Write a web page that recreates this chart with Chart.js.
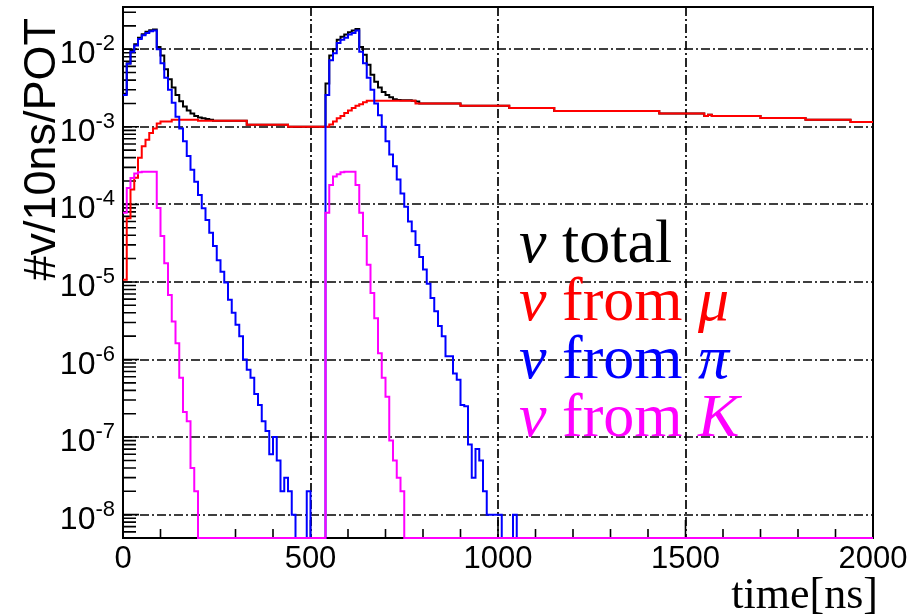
<!DOCTYPE html>
<html lang="en">
<head>
<meta charset="UTF-8">
<title>Neutrino time distribution</title>
<script src="https://cdn.jsdelivr.net/npm/chart.js"></script>
<style>
  body { margin: 0; background: #fff; }
  #wrap { width: 912px; height: 616px; }
</style>
</head>
<body>
<div id="wrap"><canvas id="timeChart" width="912" height="616"></canvas></div>
<script>
// axis ranges (ns, #nu/10ns/POT)
const X_MIN = 0, X_MAX = 2000;
const Y_MIN = 5.0e-9, Y_MAX = 3.5e-2;
const xTickLabels = [0, 500, 1000, 1500, 2000];
const yDecades = [-8, -7, -6, -5, -4, -3, -2];
const X_TITLE = 'time[ns]';
const Y_TITLE = '#v/10ns/POT';

// each series: bin left edges (ns) and bin contents; a content holds until the next edge, 0 = empty bin
const totalTimes = [0, 10, 20, 30, 40, 50, 60, 70, 80, 90, 100, 110, 120, 130, 140, 150, 160, 170, 180, 190, 200, 210, 220, 230, 240,
  330, 440,
  540, 550, 560, 570, 580, 590, 600, 610, 620, 630, 640, 650, 660, 670, 680, 690, 700, 710, 720, 730, 740, 750, 760, 770, 780, 790,
  900, 1030, 1150, 1430, 1550, 1560, 1570, 1700, 1820, 1940];
const totalValues = [2.66e-3, 6.6e-3, 9.6e-3, 1.16e-2, 1.40e-2, 1.56e-2, 1.68e-2, 1.76e-2, 1.80e-2,
  1.07e-2, 8.3e-3, 5.5e-3, 4.1e-3, 3.2e-3, 2.57e-3, 2.14e-3, 1.82e-3, 1.62e-3, 1.48e-3, 1.38e-3, 1.32e-3, 1.29e-3, 1.26e-3, 1.23e-3, 1.20e-3,
  1.06e-3, 1.0e-3,
  3.6e-3, 8.3e-3, 1.0e-2, 1.32e-2, 1.45e-2, 1.55e-2, 1.66e-2, 1.74e-2, 1.82e-2,
  1.07e-2, 8.5e-3, 6.3e-3, 4.7e-3, 3.8e-3, 3.2e-3, 2.8e-3, 2.57e-3, 2.40e-3, 2.26e-3, 2.21e-3, 2.19e-3, 2.19e-3, 2.19e-3, 2.16e-3, 2.12e-3, 2.0e-3,
  1.86e-3, 1.74e-3, 1.6e-3, 1.48e-3, 1.38e-3, 1.43e-3, 1.38e-3, 1.30e-3, 1.23e-3, 1.15e-3];

const muTimes = [0, 10, 20, 30, 40, 50, 60, 70, 80, 90, 100, 130, 200, 330, 440,
  550, 560, 570, 580, 590, 600, 610, 620, 630, 640, 650,
  780, 900, 1030, 1150, 1430, 1550, 1560, 1570, 1700, 1820, 1940];
const muValues = [1.07e-5, 6.6e-5, 1.55e-4, 2.2e-4, 4.0e-4, 5.6e-4, 6.8e-4, 8.3e-4, 9.5e-4, 1.10e-3, 1.17e-3, 1.23e-3, 1.20e-3, 1.06e-3, 1.0e-3,
  1.07e-3, 1.17e-3, 1.29e-3, 1.38e-3, 1.51e-3, 1.62e-3, 1.74e-3, 1.86e-3, 1.95e-3, 2.07e-3, 2.16e-3,
  2.0e-3, 1.86e-3, 1.74e-3, 1.6e-3, 1.48e-3, 1.38e-3, 1.43e-3, 1.38e-3, 1.30e-3, 1.23e-3, 1.15e-3];

const piTimes = [0, 10, 20, 30, 40, 50, 60, 70, 80, 90, 100, 110, 120, 130, 140, 150, 160, 170, 180, 190,
  200, 210, 220, 230, 240, 250, 260, 270, 280, 290, 300, 310, 320, 330, 340, 350, 360, 370, 380, 390,
  400, 410, 420, 430, 440, 450, 460, 490, 500,
  540, 550, 560, 570, 580, 590, 600, 610, 620, 630, 640, 650, 660, 670, 680, 690, 700, 710, 720, 730,
  740, 750, 760, 770, 780, 790, 800, 810, 820, 830, 840, 850, 860, 870, 880, 890, 900, 910, 920, 930,
  940, 950, 960, 970, 1010, 1040, 1050];
const piValues = [2.57e-3, 6.5e-3, 9.3e-3, 1.12e-2, 1.35e-2, 1.51e-2, 1.62e-2, 1.70e-2, 1.74e-2, 1.0e-2,
  6.6e-3, 4.3e-3, 3.0e-3, 2.04e-3, 1.35e-3, 9.5e-4, 6.5e-4, 4.2e-4, 2.8e-4, 1.95e-4,
  1.32e-4, 8.9e-5, 6.3e-5, 4.3e-5, 2.9e-5, 1.9e-5, 1.35e-5, 9.8e-6, 5.9e-6, 4.0e-6,
  2.8e-6, 2.0e-6, 1.0e-6, 7.4e-7, 5.8e-7, 3.6e-7, 2.6e-7, 1.6e-7, 1.2e-7, 6e-8,
  1e-7, 5e-8, 2e-8, 3e-8, 2e-8, 1e-8, 0, 2e-8, 0,
  2.57e-3, 7.2e-3, 8.9e-3, 1.2e-2, 1.32e-2, 1.41e-2, 1.55e-2, 1.62e-2, 1.74e-2, 9.3e-3,
  6.6e-3, 4.3e-3, 3.0e-3, 2.0e-3, 1.41e-3, 1.0e-3, 6.5e-4, 4.4e-4, 3.1e-4, 2.09e-4,
  1.38e-4, 9.3e-5, 6.0e-5, 4.5e-5, 3.0e-5, 2.1e-5, 1.45e-5, 9.5e-6, 6.2e-6, 4.2e-6,
  2.7e-6, 2.0e-6, 1.1e-6, 1.1e-6, 6.6e-7, 5.5e-7, 2.6e-7, 2.5e-7, 8e-8, 3e-8,
  7e-8, 5e-8, 2e-8, 1e-8, 0, 1e-8, 0];

const kTimes = [0, 10, 20, 30, 40, 50, 60, 70, 80, 90, 100, 110, 120, 130, 140, 150, 160, 170, 180, 190, 200,
  540, 550, 560, 570, 580, 590, 600, 610, 620, 630, 640, 650, 660, 670, 680, 690, 700, 710, 720, 730, 740, 750];
const kValues = [7.8e-5, 1.62e-4, 2.19e-4, 2.5e-4, 2.6e-4, 2.63e-4, 2.63e-4, 2.63e-4, 2.63e-4, 9.0e-5,
  3.9e-5, 1.74e-5, 6.8e-6, 3.1e-6, 1.62e-6, 5.8e-7, 2.1e-7, 1.6e-7, 4e-8, 2e-8, 0,
  7.8e-5, 1.78e-4, 2.29e-4, 2.45e-4, 2.6e-4, 2.63e-4, 2.63e-4, 2.63e-4, 1.78e-4, 7.8e-5,
  3.9e-5, 1.66e-5, 7.2e-6, 3.4e-6, 1.2e-6, 5.8e-7, 3.3e-7, 9e-8, 5e-8, 3e-8, 2e-8, 0];

const seriesColors = ['#000000', '#ff0000', '#0000ff', '#ff00ff'];
const seriesSymbols = ['ν', 'ν', 'ν', 'ν'];
const seriesWords = [' total', ' from ', ' from ', ' from '];
const seriesParents = ['', 'μ', 'π', 'K'];

// empty bins sit on the bottom of the frame, like ROOT does on a log axis
function histogram(times, values) {
  const pts = times.map((t, i) => ({ x: t, y: values[i] > 0 ? values[i] : Y_MIN }));
  pts.push({ x: X_MAX, y: pts[pts.length - 1].y });
  return pts;
}

function dataset(times, values, idx, order) {
  return {
    data: histogram(times, values),
    borderColor: seriesColors[idx],
    borderWidth: 2,
    pointRadius: 0,
    stepped: 'before',
    fill: false,
    clip: false,
    order: order
  };
}

const GRID_DASH = [9, 3, 2, 3];

const rootStyle = {
  id: 'rootStyle',
  beforeDatasetsDraw(chart) {
    const { ctx, chartArea: a, scales: { x, y } } = chart;
    ctx.save();
    ctx.strokeStyle = '#000';

    // dash-dot grid
    ctx.lineWidth = 1.7;
    ctx.setLineDash(GRID_DASH);
    ctx.beginPath();
    xTickLabels.slice(1, -1).forEach(t => {
      const px = Math.round(x.getPixelForValue(t));
      ctx.moveTo(px, a.top); ctx.lineTo(px, a.bottom);
    });
    yDecades.forEach(d => {
      const py = Math.round(y.getPixelForValue(Math.pow(10, d)));
      ctx.moveTo(a.left, py); ctx.lineTo(a.right, py);
    });
    ctx.stroke();
    ctx.setLineDash([]);

    // ticks inside the frame
    ctx.lineWidth = 1.6;
    ctx.beginPath();
    for (let e = -9; e <= -1; e++) {
      for (let m = 1; m <= 9; m++) {
        const v = m * Math.pow(10, e);
        if (v < Y_MIN || v > Y_MAX) continue;
        const py = y.getPixelForValue(v);
        ctx.moveTo(a.left, py); ctx.lineTo(a.left + (m === 1 ? 16 : 13), py);
      }
    }
    for (let t = 100; t < X_MAX; t += 100) {
      const px = x.getPixelForValue(t);
      ctx.moveTo(px, a.bottom); ctx.lineTo(px, a.bottom - (t % 500 === 0 ? 18 : 9));
    }
    ctx.stroke();

    // frame
    ctx.lineWidth = 2;
    ctx.strokeRect(a.left, a.top, a.right - a.left, a.bottom - a.top);
    ctx.restore();
  },
  afterDraw(chart) {
    const { ctx, chartArea: a, scales: { x, y } } = chart;
    ctx.save();
    ctx.fillStyle = '#000';
    ctx.textBaseline = 'alphabetic';

    // x tick labels
    ctx.font = '31px "Liberation Sans"';
    ctx.textAlign = 'center';
    xTickLabels.forEach(t => ctx.fillText(String(t), x.getPixelForValue(t), 568));

    // y tick labels 10^n
    yDecades.forEach(d => {
      const py = y.getPixelForValue(Math.pow(10, d));
      const sup = '-' + (-d);
      ctx.font = '22px "Liberation Sans"';
      const sw = ctx.measureText(sup).width;
      ctx.textAlign = 'left';
      ctx.fillText(sup, a.left - 8 - sw, py + 1);
      ctx.font = '32px "Liberation Sans"';
      ctx.textAlign = 'right';
      ctx.fillText('10', a.left - 8 - sw, py + 14);
    });

    // axis titles
    ctx.font = '44px "Liberation Serif"';
    ctx.textAlign = 'right';
    ctx.fillText(X_TITLE, 878, 608);

    ctx.save();
    ctx.translate(55, 18);
    ctx.rotate(-Math.PI / 2);
    ctx.font = '45px "Liberation Sans"';
    ctx.textAlign = 'right';
    ctx.fillText(Y_TITLE, 0, 0);
    ctx.restore();

    // legend text inside the pad
    ctx.textAlign = 'left';
    seriesColors.forEach((c, i) => {
      const base = 262 + i * 58;
      let px = 519;
      ctx.fillStyle = c;
      [[seriesSymbols[i], true], [seriesWords[i], false], [seriesParents[i], true]].forEach(([txt, it]) => {
        if (!txt) return;
        ctx.font = (it ? 'italic ' : '') + '62px "Liberation Serif"';
        ctx.fillText(txt, px, base);
        px += ctx.measureText(txt).width;
      });
    });
    ctx.restore();
  }
};

new Chart(document.getElementById('timeChart'), {
  type: 'line',
  data: {
    datasets: [
      dataset(totalTimes, totalValues, 0, 3),
      dataset(muTimes, muValues, 1, 2),
      dataset(piTimes, piValues, 2, 1),
      dataset(kTimes, kValues, 3, 0)
    ]
  },
  options: {
    responsive: false,
    animation: false,
    devicePixelRatio: 1,
    layout: { padding: { top: 7, right: 39, left: 0, bottom: 0 } },
    plugins: { legend: { display: false }, tooltip: { enabled: false } },
    scales: {
      x: {
        type: 'linear', min: X_MIN, max: X_MAX,
        grid: { display: false }, border: { display: false }, ticks: { display: false },
        afterFit: s => { s.height = 78; }
      },
      y: {
        type: 'logarithmic', min: Y_MIN, max: Y_MAX,
        grid: { display: false }, border: { display: false }, ticks: { display: false },
        afterFit: s => { s.width = 123; }
      }
    }
  },
  plugins: [rootStyle]
});
</script>
</body>
</html>
